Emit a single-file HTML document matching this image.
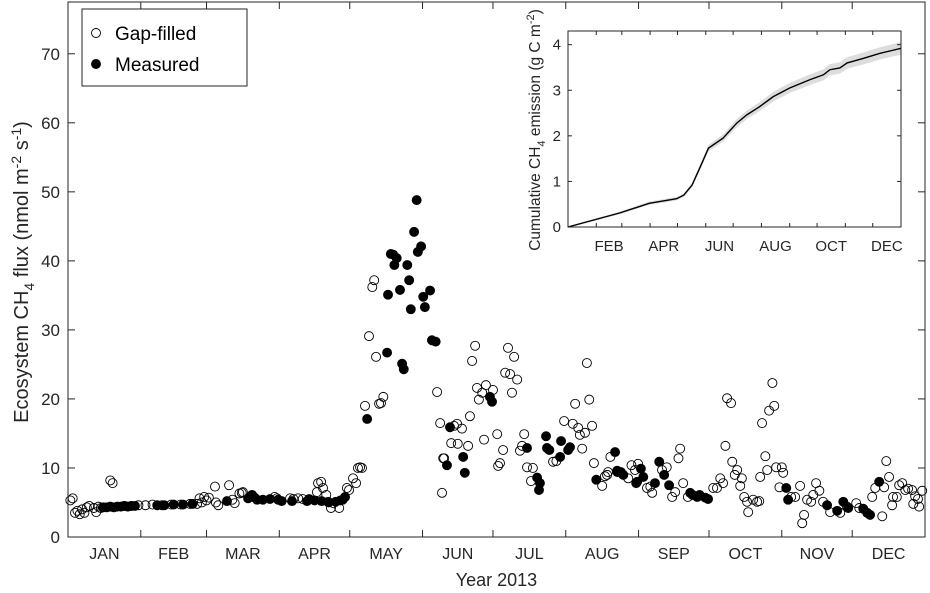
<!DOCTYPE html>
<html><head><meta charset="utf-8"><style>
html,body{margin:0;padding:0;background:#fff;}
svg{display:block;font-family:"Liberation Sans",Arial,sans-serif;}
</style></head><body>
<svg id="chart" width="930" height="593" viewBox="0 0 930 593" xmlns="http://www.w3.org/2000/svg">
<rect x="0" y="0" width="930" height="593" fill="#fff"/>
<g id="main"></g>
<g id="inset"></g>
<g id="legend">
  <rect x="82" y="9" width="165" height="77" fill="#fff" stroke="#262626" stroke-width="1"/>
  <circle cx="96" cy="33" r="4.5" fill="#fff" stroke="#000" stroke-width="0.9"/>
  <text x="115" y="40" font-size="19" fill="#000">Gap-filled</text>
  <circle cx="96" cy="64" r="4.5" fill="#000" stroke="#000" stroke-width="0.9"/>
  <text x="115" y="71" font-size="19" fill="#000">Measured</text>
</g>
</svg>
<script>
const monthNames=["JAN","FEB","MAR","APR","MAY","JUN","JUL","AUG","SEP","OCT","NOV","DEC"];
const monthStarts=[0,31,59,90,120,151,181,212,243,273,304,334,365];
const yTicks=[0,10,20,30,40,50,60,70];
const gapDays=[1,2,3,4,5,6,7,8,9,11,12,13,14,18,19,24,27,30,33,36,40,44,48,52,55,56,57,58,59,60,62.6,63,64,68.6,70,71,73,74,74.5,88,89,94.6,96,98,100,106,106.5,107.8,108.6,110,110.8,112,113,115.5,118.8,119.7,121.4,122.7,123.5,124.4,125.2,126.5,128.2,129.6,130.4,131.2,132.5,133.3,134.3,157.2,158.5,159.3,159.8,160.2,163.2,164.4,165.7,166,167.8,170.4,171.2,172.1,173.4,174.2,175,176.4,177.2,178,181,182.8,183.2,184,185.3,186.2,187.4,188.3,189.1,190,191.3,192.5,193.4,194.3,195.5,197.2,198,206.6,208,211.3,215,216,217.3,218,219,220.2,221,222,223.2,224,227.5,228.7,229.6,230,231,238.6,240,241.5,242.8,246.6,248,248.8,253,255,257.3,258.6,260,260.7,262,264,274.8,276.4,277.8,279,280,280.7,282.4,282.9,284,285,286.3,287,288,289.2,289.7,291.8,293.5,294.4,294.8,295.6,297,297.8,298.6,300,300.8,301.6,303,304,304.6,308,309.7,311.8,312.7,313.5,314.8,316.5,317.4,318.6,320,321.6,324.6,328.9,331.8,335.7,337,342.5,343.8,346.8,347.6,348.5,349.7,351,351.4,353,354,355.3,356.6,357.8,359.5,360,360.8,362,362.5,363.8];
const gapFlux=[5.3,5.6,3.5,3.8,3.3,4.0,3.5,4.3,4.5,4.2,3.6,4.4,4.2,8.2,7.8,4.5,4.5,4.6,4.6,4.7,4.6,4.7,4.7,4.8,4.8,5.6,5.0,5.8,5.3,5.7,7.3,5.0,4.6,7.5,5.4,4.9,6.3,6.4,6.5,5.8,5.6,5.6,5.5,5.6,5.5,6.5,7.8,8.0,7.1,6.1,5.1,4.2,4.9,4.2,7.1,6.8,8.5,7.8,10.0,10.1,10.0,19.0,29.1,36.2,37.2,26.1,19.3,19.4,20.3,21.0,16.5,6.4,11.4,11.4,13.6,16.1,16.4,13.5,15.7,13.2,17.5,25.5,27.7,21.6,19.9,20.9,14.1,22.0,21.3,14.9,10.3,10.7,12.6,23.8,27.4,23.6,20.9,26.1,22.8,12.5,13.2,14.9,10.1,8.1,10.0,10.9,11.0,16.8,16.4,19.3,15.8,14.8,12.8,15.1,25.2,19.9,16.1,10.7,7.4,8.8,9.0,9.4,11.6,8.5,10.4,9.7,10.6,7.1,7.3,6.4,9.7,10.1,5.8,6.5,11.4,12.8,7.8,5.8,7.1,7.1,8.5,7.8,13.2,20.1,19.4,10.9,9.0,9.7,7.4,8.5,5.8,5.1,3.6,5.4,5.1,5.2,8.7,16.5,11.7,9.7,18.3,22.3,19.0,10.1,7.2,10.1,9.3,5.8,5.8,7.4,2.0,3.2,5.4,5.1,6.1,7.8,6.7,5.1,3.6,3.5,4.4,4.9,4.2,5.8,7.1,3.0,7.2,11.0,8.7,4.6,5.8,5.8,7.5,7.8,6.8,7.0,6.8,4.8,5.9,5.5,4.4,6.7];
const measDays=[15,16.5,18,19.5,21,22.5,24,25.5,27,28.5,38,41,45,49,53,67.7,76.7,78.4,79.5,80.5,83,86,89.5,91,95.4,101.8,102.7,105,108,111,114,116,117,118,127.4,135.9,136.3,137.5,138.5,139,140,141.4,142.3,143,144.5,145.3,146,147.4,148.5,149,150.4,151.3,152,154.2,155,156.6,161.4,162.7,168.3,169,179.7,180.6,195.5,199.8,200.6,201,203.6,204,205,209.6,210,213,213.8,225,233,233.9,234,235.5,236.5,242,242.4,244,245,250,251.8,253.9,256,265,266,268,269,271.4,272.6,305.9,306.7,323.3,327.6,330.2,332.3,338.7,340.4,341.6,345.5];
const measFlux=[4.3,4.3,4.4,4.3,4.4,4.4,4.5,4.4,4.5,4.5,4.6,4.6,4.7,4.7,4.8,5.2,5.6,6.1,5.7,5.4,5.4,5.5,5.4,5.2,5.2,5.2,5.5,5.3,5.2,5.0,5.1,5.3,5.4,5.8,17.1,26.7,35.1,41.0,40.9,39.4,40.4,35.8,25.1,24.3,39.4,37.2,33.0,44.2,48.8,41.3,42.1,34.8,33.3,35.7,28.5,28.3,10.4,15.9,11.6,9.3,20.3,19.6,12.9,8.6,6.8,7.8,14.6,12.9,12.6,11.6,13.9,12.6,13.0,8.3,12.3,9.6,9.4,9.4,9.0,7.8,8.0,9.9,8.7,7.8,10.9,9.0,7.5,6.4,6.1,5.8,6.1,5.7,5.5,7.1,5.4,4.6,3.8,5.1,4.2,4.1,3.5,3.2,8.0];
const insetDays=[0,57,89,119,127,136,145,154,170,185,196,210,225,243,265,280,287,298,306,324,342,365];
const insetCum=[0,0.31,0.52,0.62,0.70,0.92,1.32,1.73,1.95,2.28,2.46,2.64,2.86,3.05,3.23,3.34,3.45,3.49,3.60,3.70,3.81,3.92];
const insetYTicks=[0,1,2,3,4];
const insetLabels=["FEB","APR","JUN","AUG","OCT","DEC"];
const insetLabelMonths=[1,3,5,7,9,11];

const NS="http://www.w3.org/2000/svg";
function mk(parent,tag,attrs){const e=document.createElementNS(NS,tag);for(const k in attrs)e.setAttribute(k,attrs[k]);parent.appendChild(e);return e;}
const L=68,R=925,T=2,B=537,YMAX=77.5;
const xS=d=>L+d/365*(R-L);
const yS=v=>B-v/YMAX*(B-T);
const main=document.getElementById('main');
yTicks.forEach(v=>{
  const y=yS(v);
  const t1=mk(main,'line',{x1:L,x2:L+7,y1:y,y2:y,stroke:'#262626','stroke-width':1});
  
  
  const t2=mk(main,'line',{x1:R,x2:R-7,y1:y,y2:y,stroke:'#262626','stroke-width':1});
  
  
  const tx=mk(main,'text',{x:L-8,y:y+6,'text-anchor':'end','font-size':17,fill:'#262626'});
  tx.textContent=v;
  
  
});
monthStarts.forEach((d,i)=>{
  const x=xS(d);
  const t=mk(main,'line',{x1:x,x2:x,y1:B,y2:B-7,stroke:'#262626','stroke-width':1});
  
  
  const t2=mk(main,'line',{x1:x,x2:x,y1:T,y2:T+7,stroke:'#262626','stroke-width':1});
  
  
  if(i<12){
    const tx=mk(main,'text',{x:xS((d+monthStarts[i+1])/2),y:559,'text-anchor':'middle','font-size':16,fill:'#262626'});
    tx.textContent=monthNames[i];
    
    
  }
});
gapDays.forEach((d,i)=>{
  const c=mk(main,'circle',{cx:xS(d),cy:yS(gapFlux[i]),r:4.5,fill:'none',stroke:'#000','stroke-width':0.9});
  
  
});
measDays.forEach((d,i)=>{
  const c=mk(main,'circle',{cx:xS(d),cy:yS(measFlux[i]),r:4.5,fill:'#000',stroke:'#000','stroke-width':0.9});
  
  
});
const box=mk(main,'rect',{x:L,y:T,width:R-L,height:B-T,fill:'none',stroke:'#262626','stroke-width':1});


const xt=mk(main,'text',{x:(L+R)/2,y:586,'text-anchor':'middle','font-size':18,fill:'#262626'});
xt.textContent='Year 2013';


const yt=mk(main,'text',{transform:'translate(28,272) rotate(-90)','text-anchor':'middle','font-size':20,fill:'#262626'});
yt.innerHTML='Ecosystem CH<tspan dy="6" font-size="14">4</tspan><tspan dy="-6"> flux (nmol m</tspan><tspan dy="-7" font-size="14">-2</tspan><tspan dy="7"> s</tspan><tspan dy="-7" font-size="14">-1</tspan><tspan dy="7">)</tspan>';



const iL=568,iR=901,iT=31,iB=227,IYMAX=4.3;
const ixS=d=>iL+d/365*(iR-iL);
const iyS=v=>iB-v/IYMAX*(iB-iT);
const inset=document.getElementById('inset');
const bg=mk(inset,'rect',{x:iL,y:iT,width:iR-iL,height:iB-iT,fill:'#fff'});


let up='',dn='';
insetDays.forEach((d,i)=>{const w=0.02+insetCum[i]*0.03;up+=(i?'L':'M')+ixS(d)+','+iyS(insetCum[i]+w);});
for(let i=insetDays.length-1;i>=0;i--){const w=0.02+insetCum[i]*0.03;dn+='L'+ixS(insetDays[i])+','+iyS(insetCum[i]-w);}
const band=mk(inset,'path',{d:up+dn+'Z',fill:'#ddd',stroke:'none'});


let p='';insetDays.forEach((d,i)=>{p+=(i?'L':'M')+ixS(d)+','+iyS(insetCum[i]);});
const line=mk(inset,'path',{d:p,fill:'none',stroke:'#000','stroke-width':1.4});


insetYTicks.forEach(v=>{
  const y=iyS(v);
  const a=mk(inset,'line',{x1:iL,x2:iL+4,y1:y,y2:y,stroke:'#262626','stroke-width':1});
  
  
  const b=mk(inset,'line',{x1:iR,x2:iR-4,y1:y,y2:y,stroke:'#262626','stroke-width':1});
  
  
  const tx=mk(inset,'text',{x:iL-7,y:y+5,'text-anchor':'end','font-size':15,fill:'#262626'});
  tx.textContent=v;
  
  
});
monthStarts.forEach(d=>{
  const x=ixS(d);
  const a=mk(inset,'line',{x1:x,x2:x,y1:iB,y2:iB-4,stroke:'#262626','stroke-width':1});
  
  
  const b=mk(inset,'line',{x1:x,x2:x,y1:iT,y2:iT+4,stroke:'#262626','stroke-width':1});
  
  
});
insetLabels.forEach((s,i)=>{
  const m=insetLabelMonths[i];
  const tx=mk(inset,'text',{x:ixS((monthStarts[m]+monthStarts[m+1])/2),y:251,'text-anchor':'middle','font-size':15,fill:'#262626'});
  tx.textContent=s;
  
  
});
const ib=mk(inset,'rect',{x:iL,y:iT,width:iR-iL,height:iB-iT,fill:'none',stroke:'#262626','stroke-width':1});


const iyt=mk(inset,'text',{transform:'translate(540,130) rotate(-90)','text-anchor':'middle','font-size':15.5,fill:'#262626'});
iyt.innerHTML='Cumulative CH<tspan dy="5" font-size="11">4</tspan><tspan dy="-5"> emission (g C m</tspan><tspan dy="-6" font-size="11">-2</tspan><tspan dy="6">)</tspan>';


</script>
</body></html>
